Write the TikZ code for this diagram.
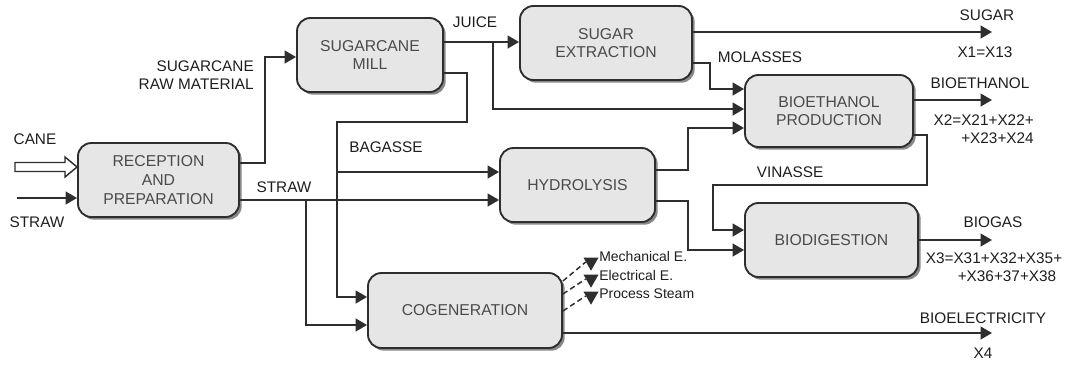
\documentclass[tikz,border=0pt]{standalone}
\usepackage{fontspec}
\setmainfont{Liberation Sans}
\usetikzlibrary{arrows.meta,shadows,shapes.geometric}
\definecolor{linec}{HTML}{2E2E2E}
\definecolor{boxfill}{HTML}{E6E6E6}
\definecolor{boxtext}{HTML}{4A4A4A}
\definecolor{labc}{HTML}{1E1E1E}
\newcommand{\boxfont}{\fontsize{11.8}{14}\selectfont}
\newcommand{\labfont}{\fontsize{11.5}{13.5}\selectfont}
\newcommand{\smallfont}{\fontsize{10.5}{12}\selectfont}
\begin{document}
\begin{tikzpicture}[x=0.75pt,y=-0.75pt,
  box/.style={draw=linec, line width=1.4pt, rounded corners=10pt, fill=boxfill,
    text=boxtext, align=center, font=\boxfont, inner sep=0pt,
    drop shadow={shadow xshift=2pt, shadow yshift=-2pt, fill=black!55, opacity=0.85}},
  lab/.style={text=labc, font=\labfont, inner sep=0pt},
  smalllab/.style={text=labc, font=\smallfont, inner sep=0pt, anchor=west},
  line/.style={draw=linec, line width=1.4pt},
  flow/.style={line, -{Triangle[length=8.5pt,width=9.5pt]}},
  dflow/.style={draw=linec, line width=1.1pt, dash pattern=on 4pt off 2.5pt},
  tri/.style={regular polygon, regular polygon sides=3, shape border rotate=180,
    fill=linec, inner sep=0pt, minimum size=13pt}
]
\useasboundingbox (0,0) rectangle (1067,365);

% boxes
\node[box, minimum width=120.75pt, minimum height=55.5pt] (rec) at (158.5,180) {RECEPTION\\AND\\PREPARATION};
\node[box, minimum width=109.5pt, minimum height=55.5pt] (mill) at (370,55) {SUGARCANE\\MILL};
\node[box, minimum width=129pt, minimum height=55.5pt] (sug) at (606,43) {SUGAR\\EXTRACTION};
\node[box, minimum width=126pt, minimum height=54pt] (bio) at (829,111) {BIOETHANOL\\PRODUCTION};
\node[box, minimum width=116.25pt, minimum height=55.5pt] (hyd) at (577.5,185) {HYDROLYSIS};
\node[box, minimum width=129.75pt, minimum height=55.5pt] (dig) at (831.5,240) {BIODIGESTION};
\node[box, minimum width=145.5pt, minimum height=56.25pt] (cog) at (465,310.5) {COGENERATION};

% free ends
\coordinate (straw0) at (17,198);
\coordinate (sugarE) at (992,32);
\coordinate (ethE) at (992,100);
\coordinate (gasE) at (992,240);
\coordinate (elecE) at (992,333);

% inputs
\draw[draw=linec, line width=1.1pt, fill=white, line join=miter]
  (15,162.5) -- (65,162.5) -- (65,157) -- (rec.west |- 0,167) -- (65,177) -- (65,171.5) -- (15,171.5) -- cycle;
\draw[flow] (straw0) -- (rec.west |- straw0);

% reception outputs
\draw[flow] (rec.east |- 0,163) -- (265,163) -- (265,57) -- (mill.west |- 0,57);
\draw[flow] (rec.east |- 0,200) -- (hyd.west |- 0,200);
\draw[flow] (306,200) -- (306,325) -- (cog.west |- 0,325);

% bagasse
\draw[flow] (mill.east |- 0,73) -- (467,73) -- (467,122) -- (337,122) -- (337,297) -- (cog.west |- 0,297);
\draw[flow] (337,172) -- (hyd.west |- 0,172);

% juice
\draw[flow] (mill.east |- 0,42) -- (sug.west |- 0,42);
\draw[flow] (493,42) -- (493,109) -- (bio.west |- 0,109);

% sugar extraction outputs
\draw[flow] (sug.east |- sugarE) -- (sugarE);
\draw[flow] (sug.east |- 0,63) -- (710,63) -- (710,89) -- (bio.west |- 0,89);

% hydrolysis outputs
\draw[flow] (hyd.east |- 0,170) -- (688,170) -- (688,128) -- (bio.west |- 0,128);
\draw[flow] (hyd.east |- 0,201) -- (688,201) -- (688,250) -- (dig.west |- 0,250);

% bioethanol outputs
\draw[flow] (bio.east |- ethE) -- (ethE);
\draw[flow] (bio.east |- 0,135) -- (927,135) -- (927,185) -- (713,185) -- (713,230) -- (dig.west |- 0,230);

% biodigestion / cogeneration outputs
\draw[flow] (dig.east |- gasE) -- (gasE);
\draw[flow] (cog.east |- elecE) -- (elecE);

% cogeneration dashed outputs
\node[tri] (t1) at (591,262) {};
\node[tri] (t2) at (591,279) {};
\node[tri] (t3) at (591,296) {};
\draw[dflow] (cog.east |- 0,281) -- (t1.west);
\draw[dflow] (cog.east |- 0,294) -- (t2.west);
\draw[dflow] (cog.east |- 0,311) -- (t3.west);
\node[smalllab] (mech) at (599,256) {Mechanical E.};
\node[smalllab] (elec) at (599,275) {Electrical E.};
\node[smalllab] (steam) at (599,294) {Process Steam};

% labels
\node[lab] (lcane) at (35,139) {CANE};
\node[lab] (lstraw) at (37,222) {STRAW};
\node[lab, align=right, anchor=east] (lraw) at (254,75) {SUGARCANE\\RAW MATERIAL};
\node[lab] (lstraw2) at (284,187) {STRAW};
\node[lab] (ljuice) at (475,22) {JUICE};
\node[lab] (lbag) at (386,147) {BAGASSE};
\node[lab] (lmol) at (760,57) {MOLASSES};
\node[lab] (lvin) at (790,172) {VINASSE};
\node[lab] (lsugar) at (987,15) {SUGAR};
\node[lab] (lx1) at (985,52) {X1=X13};
\node[lab] (leth) at (980,83) {BIOETHANOL};
\node[lab, align=right, anchor=east] (lx2) at (1034,129) {X2=X21+X22+\\+X23+X24};
\node[lab] (lgas) at (993,222) {BIOGAS};
\node[lab] (lx3a) at (994,258) {X3=X31+X32+X35+};
\node[lab] (lx3b) at (1007,276) {+X36+37+X38};
\node[lab] (lelec) at (983,318) {BIOELECTRICITY};
\node[lab] (lx4) at (983,353) {X4};
\end{tikzpicture}
\end{document}
